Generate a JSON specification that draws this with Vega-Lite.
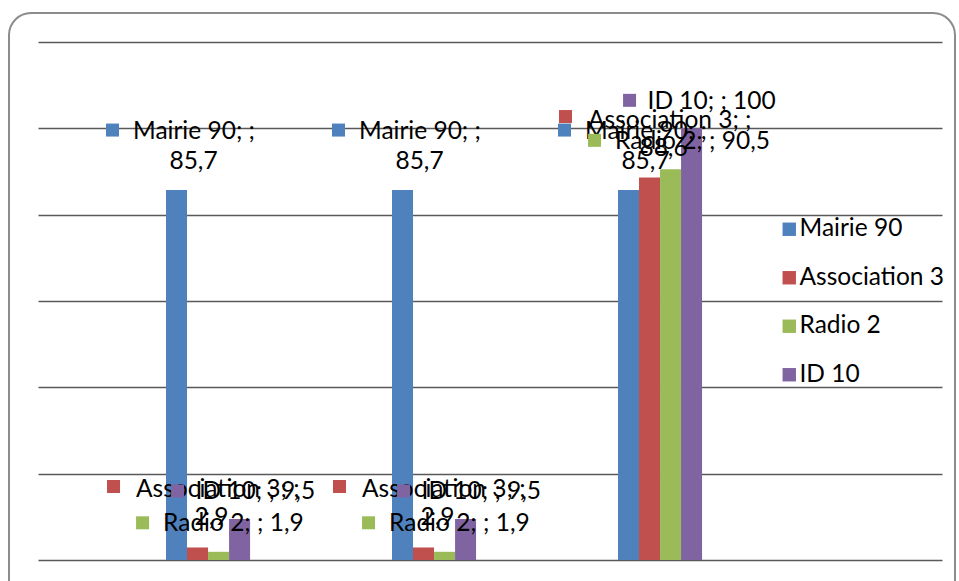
{
  "$schema": "https://vega.github.io/schema/vega-lite/v6.json",
  "width": 946,
  "height": 600,
  "autosize": {"type": "none"},
  "padding": {"left": 9, "top": 13, "right": 4, "bottom": -32},
  "background": "white",
  "config": {
    "view": {"stroke": "#8c8c8c", "strokeWidth": 2, "cornerRadius": 22},
    "font": "Lato",
    "text": {"font": "Lato", "fontSize": 24.5, "color": "#000000"},
    "legend": {
      "orient": "none",
      "legendX": 768,
      "legendY": 204,
      "padding": 0,
      "title": null,
      "symbolType": "square",
      "symbolSize": 180,
      "symbolStrokeWidth": 0,
      "labelFont": "Lato",
      "labelFontSize": 24.5,
      "labelColor": "#000000",
      "labelOffset": -2,
      "rowPadding": 23.5
    }
  },
  "data": {
    "values": [
      {"groupe": "1", "serie": "Mairie 90", "valeur": 85.7, "l1": "Mairie 90; ;", "l2": "85,7"},
      {"groupe": "1", "serie": "Association 3", "valeur": 2.9, "l1": "Association 3; ;", "l2": "2,9"},
      {"groupe": "1", "serie": "Radio 2", "valeur": 1.9, "l1": "Radio 2; ; 1,9", "l2": ""},
      {"groupe": "1", "serie": "ID 10", "valeur": 9.5, "l1": "ID 10; ; 9,5", "l2": ""},
      {"groupe": "2", "serie": "Mairie 90", "valeur": 85.7, "l1": "Mairie 90; ;", "l2": "85,7"},
      {"groupe": "2", "serie": "Association 3", "valeur": 2.9, "l1": "Association 3; ;", "l2": "2,9"},
      {"groupe": "2", "serie": "Radio 2", "valeur": 1.9, "l1": "Radio 2; ; 1,9", "l2": ""},
      {"groupe": "2", "serie": "ID 10", "valeur": 9.5, "l1": "ID 10; ; 9,5", "l2": ""},
      {"groupe": "3", "serie": "Mairie 90", "valeur": 85.7, "l1": "Mairie 90; ;", "l2": "85,7"},
      {"groupe": "3", "serie": "Association 3", "valeur": 88.6, "l1": "Association 3; ;", "l2": "88,6"},
      {"groupe": "3", "serie": "Radio 2", "valeur": 90.5, "l1": "Radio 2; ; 90,5", "l2": ""},
      {"groupe": "3", "serie": "ID 10", "valeur": 100, "l1": "ID 10; ; 100", "l2": ""}
    ]
  },
  "encoding": {
    "x": {
      "field": "groupe",
      "type": "nominal",
      "scale": {"domain": ["1", "2", "3"], "paddingInner": 0.628, "paddingOuter": 0.907, "align": 0.383},
      "axis": null
    },
    "xOffset": {
      "field": "serie",
      "type": "nominal",
      "scale": {"domain": ["Mairie 90", "Association 3", "Radio 2", "ID 10"], "paddingInner": 0, "paddingOuter": 0}
    },
    "y": {
      "field": "valeur",
      "type": "quantitative",
      "scale": {"domain": [-12.278, 126.718], "nice": false},
      "axis": {
        "orient": "left",
        "offset": -29,
        "values": [0, 20, 40, 60, 80, 100, 120],
        "tickSize": -904,
        "tickColor": "#595959",
        "tickWidth": 1.3,
        "domain": false,
        "labels": false,
        "grid": false,
        "title": null
      }
    }
  },
  "layer": [
    {
      "mark": {"type": "bar"},
      "encoding": {
        "y2": {"datum": 0},
        "color": {
          "field": "serie",
          "type": "nominal",
          "scale": {"domain": ["Mairie 90", "Association 3", "Radio 2", "ID 10"], "range": ["#4F81BD", "#C0504D", "#9BBB59", "#8064A2"]}
        }
      }
    },
    {
      "transform": [{"filter": "datum.serie == 'Mairie 90'"}],
      "layer": [
        {"mark": {"type": "point", "shape": "M -1.41 -1.33 h 0.26 v 0.26 h -0.26 Z", "filled": true, "opacity": 1, "size": 10000, "strokeWidth": 0, "color": "#4F81BD"}, "encoding": {}},
        {"mark": {"type": "text", "align": "left", "baseline": "middle", "dx": -43.5, "dy": -58}, "encoding": {"text": {"field": "l1"}}},
        {"mark": {"type": "text", "align": "center", "baseline": "middle", "dx": 17, "dy": -28}, "encoding": {"text": {"field": "l2"}}}
      ]
    },
    {
      "transform": [{"filter": "datum.serie == 'Association 3'"}],
      "layer": [
        {"mark": {"type": "point", "shape": "M -1.81 -1.35 h 0.26 v 0.26 h -0.26 Z", "filled": true, "opacity": 1, "size": 10000, "strokeWidth": 0, "color": "#C0504D"}, "encoding": {}},
        {"mark": {"type": "text", "align": "left", "baseline": "middle", "dx": -61.5, "dy": -57}, "encoding": {"text": {"field": "l1"}}},
        {"mark": {"type": "text", "align": "center", "baseline": "middle", "dx": 14, "dy": -29}, "encoding": {"text": {"field": "l2"}}}
      ]
    },
    {
      "transform": [{"filter": "datum.serie == 'Radio 2'"}],
      "layer": [
        {"mark": {"type": "point", "shape": "M -1.65 -0.71 h 0.26 v 0.26 h -0.26 Z", "filled": true, "opacity": 1, "size": 10000, "strokeWidth": 0, "color": "#9BBB59"}, "encoding": {}},
        {"mark": {"type": "text", "align": "left", "baseline": "middle", "dx": -55.5, "dy": -27.5}, "encoding": {"text": {"field": "l1"}}}
      ]
    },
    {
      "transform": [{"filter": "datum.serie == 'ID 10'"}],
      "layer": [
        {"mark": {"type": "point", "shape": "M -1.37 -0.69 h 0.26 v 0.26 h -0.26 Z", "filled": true, "opacity": 1, "size": 10000, "strokeWidth": 0, "color": "#8064A2"}, "encoding": {}},
        {"mark": {"type": "text", "align": "left", "baseline": "middle", "dx": -44, "dy": -26.5}, "encoding": {"text": {"field": "l1"}}}
      ]
    }
  ]
}
